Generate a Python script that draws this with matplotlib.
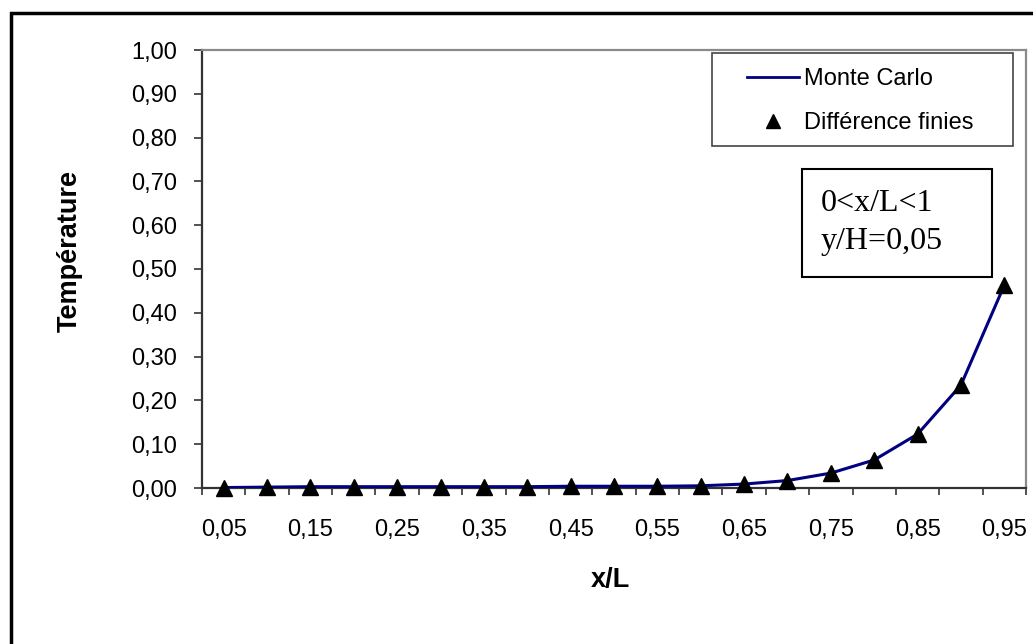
import matplotlib
matplotlib.use("Agg")
import matplotlib.pyplot as plt
from matplotlib.lines import Line2D
from matplotlib.patches import Rectangle

# temperature profile along the plate at y/H = 0.05
x_labels = ["0,05", "0,10", "0,15", "0,20", "0,25", "0,30", "0,35", "0,40", "0,45", "0,50",
            "0,55", "0,60", "0,65", "0,70", "0,75", "0,80", "0,85", "0,90", "0,95"]
monte_carlo = [0.001, 0.002, 0.003, 0.003, 0.003, 0.003, 0.003, 0.003, 0.004, 0.004,
               0.004, 0.005, 0.009, 0.017, 0.034, 0.064, 0.123, 0.235, 0.463]
diff_finies = [0.001, 0.002, 0.003, 0.003, 0.003, 0.003, 0.003, 0.003, 0.004, 0.004,
               0.004, 0.005, 0.009, 0.017, 0.034, 0.064, 0.123, 0.235, 0.463]
y_ticks = [0.0, 0.1, 0.2, 0.3, 0.4, 0.5, 0.6, 0.7, 0.8, 0.9, 1.0]

W, H = 1033, 644
plt.rcParams['font.family'] = ['Arial', 'Liberation Sans', 'DejaVu Sans']

fig = plt.figure(figsize=(W / 100, H / 100), dpi=100)


def fx(px):
    return px / W


def fy(py):
    return 1 - py / H


ax = fig.add_axes([fx(202), fy(488), fx(1026) - fx(202), fy(50) - fy(488)])

pos = list(range(len(x_labels)))
ax.plot(pos, monte_carlo, color='#000080', lw=2.2, zorder=3)
ax.plot(pos, diff_finies, ls='none', marker='^', color='black', ms=11, zorder=4,
        clip_on=False)

ax.set_xlim(-0.5, len(x_labels) - 0.5)
ax.set_ylim(0, 1.0)

# ticks sit between categories, labels on every other category
ax.set_xticks([p - 0.5 for p in pos] + [len(x_labels) - 0.5])
ax.set_xticklabels([])
ax.set_xticks(pos[::2], minor=True)
ax.set_xticklabels(x_labels[::2], minor=True)
ax.tick_params(axis='x', which='major', direction='out', length=5, width=1.2, color='#333333')
ax.tick_params(axis='x', which='minor', length=0, pad=22, labelsize=17)

ax.set_yticks(y_ticks)
ax.set_yticklabels([f"{v:.2f}".replace('.', ',') for v in y_ticks])
ax.tick_params(axis='y', direction='out', length=6, width=1.2, color='#333333',
               labelsize=17, pad=12)

for side in ['left', 'bottom']:
    ax.spines[side].set_color('#333333')
    ax.spines[side].set_linewidth(1.6)
for side in ['top', 'right']:
    ax.spines[side].set_color('#8a8a8a')
    ax.spines[side].set_linewidth(1.6)

fig.text(fx(610), fy(580), 'x/L', ha='center', va='center', fontsize=19.5, fontweight='bold')
fig.text(fx(70), fy(251), 'Température', ha='center', va='center', rotation=90,
         fontsize=19.5, fontweight='bold')

# legend box
fig.add_artist(Rectangle((fx(712), fy(146)), fx(1013) - fx(712), fy(53) - fy(146),
                         transform=fig.transFigure, fill=False, ec='#444444', lw=1.2))
handles = [Line2D([], [], color='#000080', lw=2),
           Line2D([], [], ls='none', marker='^', color='black', ms=10)]
fig.legend(handles, ['Monte Carlo', 'Différence finies'], loc='upper left',
           bbox_to_anchor=(fx(747), fy(68)), frameon=False, fontsize=17,
           handlelength=2.2, handletextpad=0.2, labelspacing=0.95,
           borderpad=0, borderaxespad=0)

# annotation box
fig.add_artist(Rectangle((fx(802), fy(277)), fx(992) - fx(802), fy(169) - fy(277),
                         transform=fig.transFigure, fill=False, ec='black', lw=1.5))
fig.text(fx(821), fy(203), '0<x/L<1', ha='left', va='center', fontsize=23,
         family=['Liberation Serif', 'DejaVu Serif'])
fig.text(fx(821), fy(241), 'y/H=0,05', ha='left', va='center', fontsize=23,
         family=['Liberation Serif', 'DejaVu Serif'])

# outer chart border
fig.add_artist(Rectangle((fx(11), fy(660)), fx(1050) - fx(11), fy(13) - fy(660),
                         transform=fig.transFigure, fill=False, ec='black', lw=2.5,
                         clip_on=False))

fig.savefig('out.png', dpi=100)
